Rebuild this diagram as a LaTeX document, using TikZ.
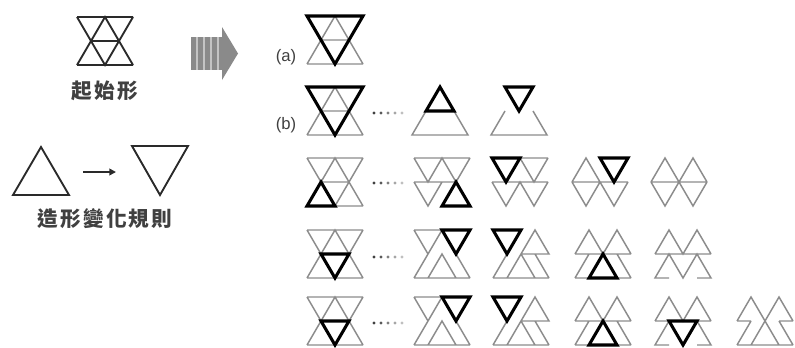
\documentclass[tikz,border=0pt]{standalone}
\usepackage{fontspec}
\setmainfont{Liberation Sans}
\newfontfamily\cjk[LetterSpace=10]{Noto Sans CJK TC}
\usetikzlibrary{arrows.meta}
\definecolor{gl}{HTML}{8C8C8C}
\definecolor{dk}{HTML}{2A2A2A}
\definecolor{tx}{HTML}{404040}
\definecolor{arw}{HTML}{8A8A8A}
\definecolor{arwl}{HTML}{C4C4C4}
\tikzset{
  lite/.style={draw=gl,line width=1.1pt},
  bold/.style={draw=black,line width=2.3pt},
  dark/.style={draw=dk,line width=1.4pt},
  lbl/.style={text=tx,font=\fontsize{12.5}{14}\selectfont,inner sep=0pt},
  cjklbl/.style={text=tx,font=\cjk\bfseries\fontsize{15.5}{17}\selectfont,inner sep=0pt},
}
% lattice of one figure: left edge, top edge
\newcommand\lat[2]{\foreach \i in {0,...,4}{\foreach \j in {0,1,2}{%
  \coordinate (p\i\j) at ({#1+\i*14},{#2+\j*24});}}}
\newcommand\fullshape[1]{\draw[#1] (p00)--(p40) (p02)--(p42) (p00)--(p22)--(p40)
  (p02)--(p20)--(p42) (p11)--(p31);}
\newcommand\dotrow[2]{%
  \fill[black!75] (#1,#2) circle (1.6);
  \fill[black!65] (#1+7,#2) circle (1.6);
  \fill[black!50] (#1+14,#2) circle (1.6);
  \fill[black!35] (#1+21,#2) circle (1.6);
  \fill[black!25] (#1+28,#2) circle (1.6);}
% figure types
\newcommand\figA[2]{\lat{#1}{#2}
  \draw[lite] (p02)--(p42) (p02)--(p20)--(p42) (p11)--(p31);
  \draw[bold] (p00)--(p40)--(p22)--cycle;}
\newcommand\figBmid[2]{\lat{#1}{#2}
  \draw[lite] (p11)--(p02)--(p42)--(p31);
  \draw[bold] (p11)--(p20)--(p31)--cycle;}
\newcommand\figBend[2]{\lat{#1}{#2}
  \draw[lite] (p11)--(p02)--(p42)--(p31);
  \draw[bold] (p10)--(p30)--(p21)--cycle;}
\newcommand\figCa[2]{\lat{#1}{#2}
  \fullshape{lite}
  \draw[bold] (p02)--(p22)--(p11)--cycle;}
\newcommand\figCb[2]{\lat{#1}{#2}
  \draw[lite] (p00)--(p40) (p00)--(p11)--(p20)--(p31)--(p40) (p01)--(p31)
    (p01)--(p12)--(p21);
  \draw[bold] (p22)--(p31)--(p42)--cycle;}
\newcommand\figCc[2]{\lat{#1}{#2}
  \draw[lite] (p00)--(p40) (p00)--(p11)--(p20)--(p31)--(p40) (p01)--(p41)
    (p01)--(p12)--(p21)--(p32)--(p41);
  \draw[bold] (p00)--(p20)--(p11)--cycle;}
\newcommand\figCd[2]{\lat{#1}{#2}
  \draw[lite] (p01)--(p10)--(p21) (p01)--(p41)
    (p01)--(p12)--(p21)--(p32)--(p41);
  \draw[bold] (p20)--(p40)--(p31)--cycle;}
\newcommand\figCe[2]{\lat{#1}{#2}
  \draw[lite] (p01)--(p10)--(p21)--(p30)--(p41) (p01)--(p41)
    (p01)--(p12)--(p21)--(p32)--(p41);}
\newcommand\figDa[2]{\lat{#1}{#2}
  \fullshape{lite}
  \draw[bold] (p11)--(p31)--(p22)--cycle;}
\newcommand\figDb[2]{\lat{#1}{#2}
  \draw[lite] (p00)--(p20) (p00)--(p11) (p02)--(p20) (p31)--(p42) (p02)--(p42)
    (p12)--(p21)--(p32);
  \draw[bold] (p20)--(p40)--(p31)--cycle;}
\newcommand\figDc[2]{\lat{#1}{#2}
  \draw[lite] (p02)--(p11) (p21)--(p30)--(p41)--cycle (p31)--(p42) (p02)--(p42)
    (p12)--(p21)--(p32);
  \draw[bold] (p00)--(p20)--(p11)--cycle;}
\newcommand\figDd[2]{\lat{#1}{#2}
  \draw[lite] (p01)--(p10)--(p21)--(p30)--(p41) (p01)--(p41) (p02)--(p11)
    (p31)--(p42) (p02)--(p42);
  \draw[bold] (p12)--(p21)--(p32)--cycle;}
\newcommand\figDe[2]{\lat{#1}{#2}
  \draw[lite] (p01)--(p10)--(p21)--(p30)--(p41) (p01)--(p41)
    (p12)--(p02)--(p11)--(p22)--(p31)--(p42)--(p32);}
\newcommand\figEe[2]{\lat{#1}{#2}
  \draw[lite] (p01)--(p10)--(p21)--(p30)--(p41) (p01)--(p41)
    (p12)--(p02)--(p11)--(p22)--(p31)--(p42)--(p32);
  \draw[bold] (p11)--(p31)--(p22)--cycle;}
\newcommand\figEf[2]{\lat{#1}{#2}
  \draw[lite] (p01)--(p11) (p31)--(p41) (p01)--(p10)--(p32) (p41)--(p30)--(p12)
    (p02)--(p11) (p31)--(p42) (p02)--(p42);}

\begin{document}
\begin{tikzpicture}[x=0.75pt,y=-0.75pt]
\useasboundingbox[fill=white] (0,0) rectangle (795,347);

% starting shape
\lat{77}{17}
\fullshape{dark}
\node[cjklbl] (start) at (105,91) {起始形};

% big striped arrow
\fill[arwl] (191,37) rectangle (222,70);
\foreach \bx in {191,198,205,212,219}{\fill[arw] (\bx,37) rectangle (\bx+5,70);}
\fill[arw] (222,27) -- (238,53.5) -- (222,80) -- cycle;

% rule
\draw[dark] (13,195) -- (69,195) -- (41,147) -- cycle;
\draw[dark] (132,146) -- (188,146) -- (160,195) -- cycle;
\coordinate (rs) at (83,172);
\coordinate (re) at (116,172);
\draw[dk,line width=1.4pt,-{Triangle[length=5pt,width=5pt]}] (rs) -- (re);
\node[cjklbl] (rule) at (105,219) {造形變化規則};

% labels
\node[lbl] (la) at (286,57.5) {(a)};
\node[lbl] (lb) at (286,125) {(b)};

% row a
\figA{307}{16}
% row b
\figA{307}{87}
\dotrow{374}{113}
\figBmid{412}{87}
\figBend{491}{87}
% row 3
\figCa{307}{158}
\dotrow{374}{183}
\figCb{414}{158}
\figCc{492}{158}
\figCd{572}{158}
\figCe{651}{158}
% row 4
\figDa{307}{230}
\dotrow{374}{257}
\figDb{414}{230}
\figDc{493}{230}
\figDd{575}{230}
\figDe{655}{230}
% row 5
\figDa{307}{297}
\dotrow{374}{323}
\figDb{414}{297}
\figDc{493}{297}
\figDd{575}{297}
\figEe{655}{297}
\figEf{737}{297}
\end{tikzpicture}
\end{document}
